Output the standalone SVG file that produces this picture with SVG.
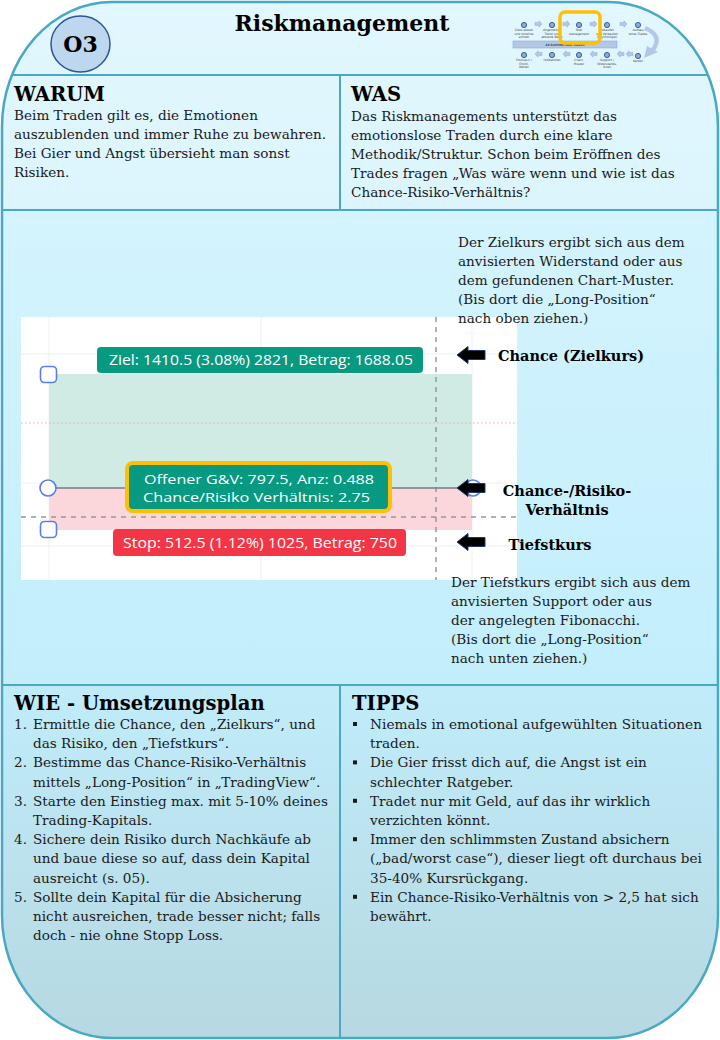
<svg xmlns="http://www.w3.org/2000/svg" width="720" height="1040" viewBox="0 0 720 1040">
<defs>
<linearGradient id="bg" x1="0" y1="0" x2="0" y2="1040" gradientUnits="userSpaceOnUse">
<stop offset="0" stop-color="#e2f7fe"/>
<stop offset="0.2" stop-color="#dcf5fd"/>
<stop offset="0.202" stop-color="#d4f4fe"/>
<stop offset="0.658" stop-color="#c2eefc"/>
<stop offset="0.66" stop-color="#c0ecfa"/>
<stop offset="1" stop-color="#b6d8e1"/>
</linearGradient>
<clipPath id="frameClip"><path d="M112,2 H608 A110 125 0 0 1 718,127 V915 A110 123 0 0 1 608,1038 H112 A110 123 0 0 1 2,915 V127 A110 125 0 0 1 112,2 Z"/></clipPath>
<path id="arr" d="M0,0 L11,-8.5 V-4.5 H28 V4.5 H11 V8.5 Z"/>
<path id="ra" d="M0,-1.6 H4 V-3.2 L7,0 L4,3.2 V1.6 H0 Z"/>
<path id="la" d="M7,-1.6 H3 V-3.2 L0,0 L3,3.2 V1.6 H7 Z"/>
</defs>
<style>
.t{font-family:"DejaVu Serif",Georgia,serif;font-size:13.6px;fill:#1a1a1a}
.h{font-family:"DejaVu Serif",Georgia,serif;font-weight:bold;font-size:19.6px;fill:#000}
.bl{font-family:"DejaVu Serif",Georgia,serif;font-weight:bold;font-size:14.5px;fill:#000}
.cl{font-family:"Open Sans","DejaVu Sans",sans-serif;font-size:15px;fill:#fff}
.cm{font-family:"Open Sans","DejaVu Sans",sans-serif;font-size:13.5px;fill:#fff}
.div{stroke:#4aa8c4;stroke-width:2;fill:none}
.hd{fill:#fff;stroke:#5b7ee5;stroke-width:1.6}
.arrow{fill:#000;stroke:#1f3864;stroke-width:1}
.mt{font-family:"DejaVu Sans",sans-serif;font-size:3px;fill:#404040;text-anchor:middle}
.md{fill:#8fa9d6;stroke:#2f5597;stroke-width:0.9}
.mar{fill:#b4c7e7;stroke:#8faadc;stroke-width:0.5}
</style>

<g id="frame">
<path d="M112,2 H608 A110 125 0 0 1 718,127 V915 A110 123 0 0 1 608,1038 H112 A110 123 0 0 1 2,915 V127 A110 125 0 0 1 112,2 Z" fill="url(#bg)"/>
<g clip-path="url(#frameClip)">
<line class="div" x1="0" y1="75" x2="720" y2="75"/>
<line class="div" x1="0" y1="210" x2="720" y2="210"/>
<line class="div" x1="0" y1="685" x2="720" y2="685"/>
<line class="div" x1="340" y1="75" x2="340" y2="210"/>
<line class="div" x1="340" y1="685" x2="340" y2="1040"/>
</g>
<path d="M112,2 H608 A110 125 0 0 1 718,127 V915 A110 123 0 0 1 608,1038 H112 A110 123 0 0 1 2,915 V127 A110 125 0 0 1 112,2 Z" fill="none" stroke="#4aa8c4" stroke-width="2.5"/>
</g>

<g id="header">
<ellipse cx="80.5" cy="44" rx="29.5" ry="28" fill="#bdd7ee" stroke="#2f5597" stroke-width="1.5"/>
<text x="80.5" y="52" text-anchor="middle" font-family="DejaVu Serif,Georgia,serif" font-weight="bold" font-size="22" fill="#000">O3</text>
<text x="342" y="31" text-anchor="middle" font-family="DejaVu Serif,Georgia,serif" font-weight="bold" font-size="22" fill="#000">Riskmanagement</text>
</g>

<g id="mini-roadmap">
<rect x="513" y="41" width="104" height="7" fill="#b4c7e7" stroke="#8faadc" stroke-width="0.6"/>
<text x="565" y="46" class="mt" font-weight="bold" fill="#1f3864">10 Schritte zum Traden</text>
<g>
<circle class="md" cx="524" cy="25" r="2.6"/><circle class="md" cx="552" cy="25" r="2.6"/><circle class="md" cx="579" cy="25" r="2.6"/><circle class="md" cx="607" cy="25" r="2.6"/><circle class="md" cx="638" cy="25" r="2.6"/>
<use href="#ra" class="mar" x="535" y="24"/><use href="#ra" class="mar" x="563" y="24"/><use href="#ra" class="mar" x="590" y="24"/><use href="#ra" class="mar" x="620" y="24"/>
<text class="mt" x="524" y="31">Ziele setzen</text><text class="mt" x="524" y="34.5">und timeline</text><text class="mt" x="524" y="38">achten</text>
<text class="mt" x="552" y="31">Allgemeiner</text><text class="mt" x="552" y="34.5">Trend und</text><text class="mt" x="552" y="38">aktuelle News</text>
<text class="mt" x="579" y="31">Risk</text><text class="mt" x="579" y="34.5">management</text>
<text class="mt" x="607" y="31">Zukaufen</text><text class="mt" x="607" y="34.5">und Verkaufen</text><text class="mt" x="607" y="38">(Psychologie)</text>
<text class="mt" x="638" y="31">Aufbau</text><text class="mt" x="638" y="34.5">eines Trades</text>
</g>
<g>
<circle class="md" cx="524" cy="55" r="2.6"/><circle class="md" cx="552" cy="55" r="2.6"/><circle class="md" cx="579" cy="55" r="2.6"/><circle class="md" cx="607" cy="55" r="2.6"/><circle class="md" cx="638" cy="56" r="2.6"/>
<use href="#la" class="mar" x="535" y="54"/><use href="#la" class="mar" x="563" y="54"/><use href="#la" class="mar" x="590" y="54"/><use href="#la" class="mar" x="617" y="54"/><use href="#la" class="mar" x="626" y="54"/>
<text class="mt" x="524" y="61">Fibonacci /</text><text class="mt" x="524" y="64.5">Elliott-</text><text class="mt" x="524" y="68">Wellen</text>
<text class="mt" x="552" y="61">Indikatoren</text>
<text class="mt" x="579" y="61">Chart-</text><text class="mt" x="579" y="64.5">Muster</text>
<text class="mt" x="607" y="61">Support /</text><text class="mt" x="607" y="64.5">Widerstands-</text><text class="mt" x="607" y="68">linien</text>
<text class="mt" x="638" y="62">Kerzen</text>
</g>
<path d="M645,28 Q664,36 652,51" fill="none" stroke="#b4c7e7" stroke-width="4.5"/>
<path d="M647,46 L658,52 L644,58 Z" fill="#b4c7e7"/>
<rect x="560" y="12" width="40" height="31" rx="5" fill="none" stroke="#ffc000" stroke-width="3.5"/>
</g>

<g id="warum">
<text class="h" x="14" y="101">WARUM</text>
<text class="t" x="14" y="120">Beim Traden gilt es, die Emotionen</text>
<text class="t" x="14" y="139">auszublenden und immer Ruhe zu bewahren.</text>
<text class="t" x="14" y="158">Bei Gier und Angst übersieht man sonst</text>
<text class="t" x="14" y="177">Risiken.</text>
</g>

<g id="was">
<text class="h" x="351" y="101">WAS</text>
<text class="t" x="351" y="121">Das Riskmanagements unterstützt das</text>
<text class="t" x="351" y="140">emotionslose Traden durch eine klare</text>
<text class="t" x="351" y="159">Methodik/Struktur. Schon beim Eröffnen des</text>
<text class="t" x="351" y="178">Trades fragen „Was wäre wenn und wie ist das</text>
<text class="t" x="351" y="197">Chance-Risiko-Verhältnis?</text>
</g>

<g id="chart">
<rect x="21" y="317" width="496" height="263" fill="#fff"/>
<g stroke="#eef0f5" stroke-width="1">
<line x1="49" y1="317" x2="49" y2="580"/>
<line x1="261" y1="317" x2="261" y2="580"/>
<line x1="472" y1="317" x2="472" y2="580"/>
<line x1="21" y1="354" x2="517" y2="354"/>
<line x1="21" y1="483" x2="517" y2="483"/>
<line x1="21" y1="546" x2="517" y2="546"/>
</g>
<rect x="49" y="374" width="423" height="114" fill="#d0ebe4"/>
<rect x="49" y="488" width="423" height="42" fill="#fbd6da"/>
<line x1="21" y1="423" x2="517" y2="423" stroke="#f5a3a3" stroke-width="1.2" stroke-dasharray="1.5 2.5"/>
<line x1="436" y1="317" x2="436" y2="580" stroke="#9598a1" stroke-width="1.5" stroke-dasharray="5 5"/>
<line x1="21" y1="517" x2="517" y2="517" stroke="#9598a1" stroke-width="1.5" stroke-dasharray="5 5"/>
<line x1="49" y1="488" x2="472" y2="488" stroke="#787b86" stroke-width="1.5"/>
<rect class="hd" x="40.5" y="366.5" width="16" height="16" rx="4"/>
<circle class="hd" cx="48" cy="488" r="8"/>
<rect class="hd" x="40.5" y="521.5" width="16" height="16" rx="4"/>
<circle class="hd" cx="473" cy="488" r="8"/>
<g id="label-ziel">
<rect x="97" y="347" width="326" height="26" rx="4" fill="#089981"/>
<text class="cl" x="109" y="365" textLength="304" lengthAdjust="spacingAndGlyphs">Ziel: 1410.5 (3.08%) 2821, Betrag: 1688.05</text>
</g>
<g id="label-mitte">
<rect x="127" y="463" width="263" height="48" rx="6" fill="#089981" stroke="#ffc000" stroke-width="4"/>
<text class="cm" x="144" y="484" textLength="230" lengthAdjust="spacingAndGlyphs">Offener G&amp;V: 797.5, Anz: 0.488</text>
<text class="cm" x="143" y="502" textLength="227" lengthAdjust="spacingAndGlyphs">Chance/Risiko Verhältnis: 2.75</text>
</g>
<g id="label-stop">
<rect x="113" y="529" width="293" height="27" rx="4" fill="#f23645"/>
<text class="cl" x="123" y="548" textLength="274" lengthAdjust="spacingAndGlyphs">Stop: 512.5 (1.12%) 1025, Betrag: 750</text>
</g>
</g>

<g id="connectors">
<use href="#arr" class="arrow" x="457" y="355"/>
<use href="#arr" class="arrow" x="457" y="488"/>
<use href="#arr" class="arrow" x="457" y="542"/>
</g>

<g id="annotations">
<text class="t" x="458" y="247">Der Zielkurs ergibt sich aus dem</text>
<text class="t" x="458" y="266">anvisierten Widerstand oder aus</text>
<text class="t" x="458" y="285">dem gefundenen Chart-Muster.</text>
<text class="t" x="458" y="304">(Bis dort die „Long-Position“</text>
<text class="t" x="458" y="323">nach oben ziehen.)</text>
<text class="bl" x="498" y="361">Chance (Zielkurs)</text>
<text class="bl" x="567" y="496" text-anchor="middle">Chance-/Risiko-</text>
<text class="bl" x="567" y="515" text-anchor="middle">Verhältnis</text>
<text class="bl" x="550" y="550" text-anchor="middle">Tiefstkurs</text>
<text class="t" x="451" y="587">Der Tiefstkurs ergibt sich aus dem</text>
<text class="t" x="451" y="606">anvisierten Support oder aus</text>
<text class="t" x="451" y="625">der angelegten Fibonacchi.</text>
<text class="t" x="451" y="644">(Bis dort die „Long-Position“</text>
<text class="t" x="451" y="663">nach unten ziehen.)</text>
</g>

<g id="wie">
<text class="h" x="14" y="710">WIE - Umsetzungsplan</text>
<text class="t" x="14" y="729">1.</text><text class="t" x="33" y="729">Ermittle die Chance, den „Zielkurs“, und</text>
<text class="t" x="33" y="748.2">das Risiko, den „Tiefstkurs“.</text>
<text class="t" x="14" y="767.4">2.</text><text class="t" x="33" y="767.4">Bestimme das Chance-Risiko-Verhältnis</text>
<text class="t" x="33" y="786.6">mittels „Long-Position“ in „TradingView“.</text>
<text class="t" x="14" y="805.8">3.</text><text class="t" x="33" y="805.8">Starte den Einstieg max. mit 5-10% deines</text>
<text class="t" x="33" y="825">Trading-Kapitals.</text>
<text class="t" x="14" y="844.2">4.</text><text class="t" x="33" y="844.2">Sichere dein Risiko durch Nachkäufe ab</text>
<text class="t" x="33" y="863.4">und baue diese so auf, dass dein Kapital</text>
<text class="t" x="33" y="882.6">ausreicht (s. 05).</text>
<text class="t" x="14" y="901.8">5.</text><text class="t" x="33" y="901.8">Sollte dein Kapital für die Absicherung</text>
<text class="t" x="33" y="921">nicht ausreichen, trade besser nicht; falls</text>
<text class="t" x="33" y="940.2">doch - nie ohne Stopp Loss.</text>
</g>

<g id="tipps">
<text class="h" x="352" y="710">TIPPS</text>
<g fill="#1a1a1a">
<rect x="353" y="722" width="4" height="4"/>
<rect x="353" y="760.4" width="4" height="4"/>
<rect x="353" y="798.8" width="4" height="4"/>
<rect x="353" y="837.2" width="4" height="4"/>
<rect x="353" y="894.8" width="4" height="4"/>
</g>
<text class="t" x="370" y="729" textLength="332" lengthAdjust="spacingAndGlyphs">Niemals in emotional aufgewühlten Situationen</text>
<text class="t" x="370" y="748.2">traden.</text>
<text class="t" x="370" y="767.4">Die Gier frisst dich auf, die Angst ist ein</text>
<text class="t" x="370" y="786.6">schlechter Ratgeber.</text>
<text class="t" x="370" y="805.8">Tradet nur mit Geld, auf das ihr wirklich</text>
<text class="t" x="370" y="825">verzichten könnt.</text>
<text class="t" x="370" y="844.2">Immer den schlimmsten Zustand absichern</text>
<text class="t" x="370" y="863.4">(„bad/worst case“), dieser liegt oft durchaus bei</text>
<text class="t" x="370" y="882.6">35-40% Kursrückgang.</text>
<text class="t" x="370" y="901.8">Ein Chance-Risiko-Verhältnis von &gt; 2,5 hat sich</text>
<text class="t" x="370" y="921">bewährt.</text>
</g>
</svg>
